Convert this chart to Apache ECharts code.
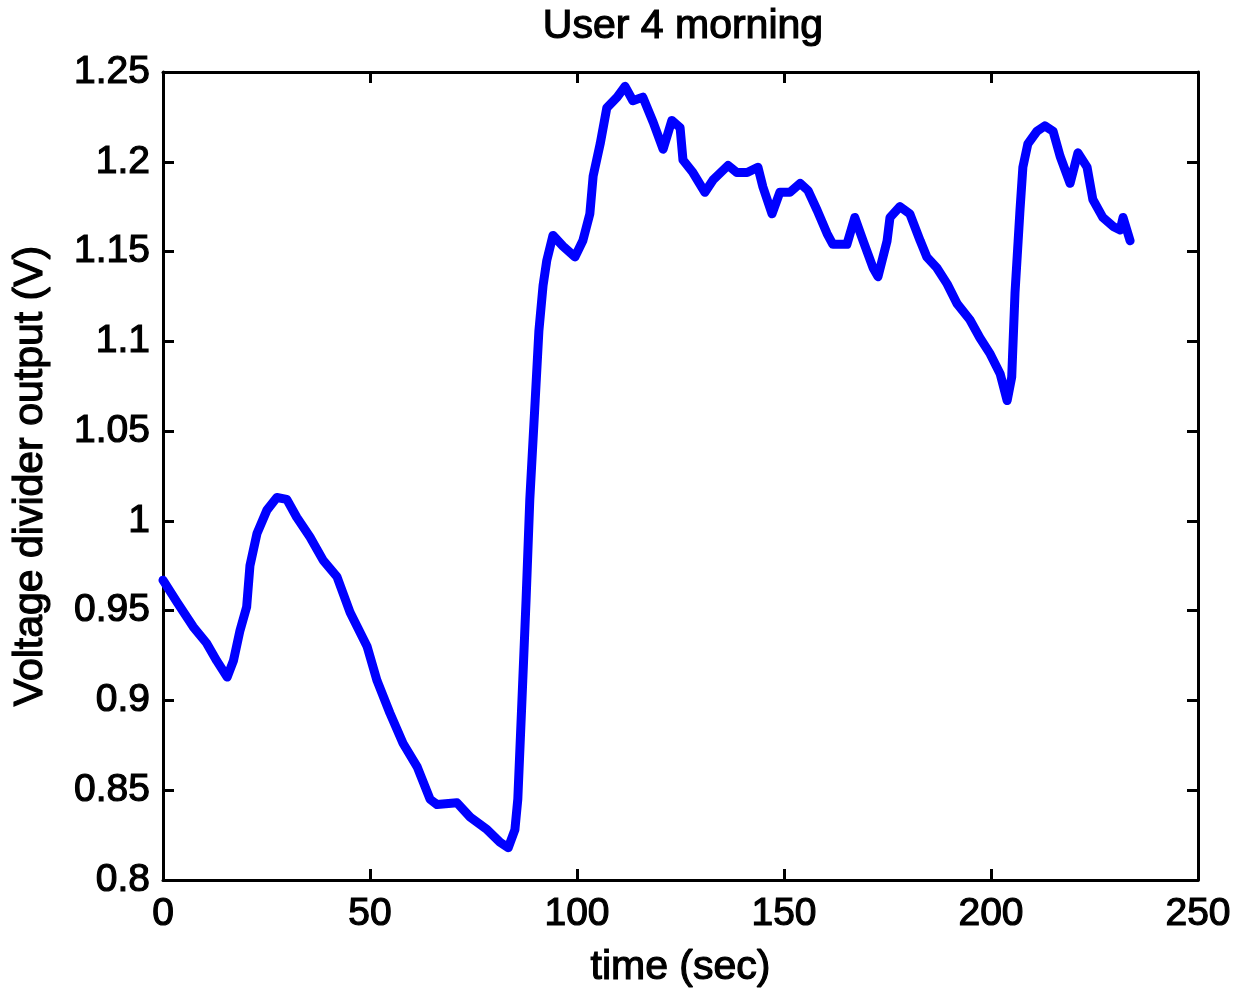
<!DOCTYPE html>
<html>
<head>
<meta charset="utf-8">
<script src="https://cdn.jsdelivr.net/npm/echarts@6/dist/echarts.min.js"></script>
<style>
html,body{margin:0;padding:0;background:#fff;}
#chart{width:1239px;height:1000px;}
</style>
</head>
<body>
<div id="chart"></div>
<script>
// Time (sec)
const times = [0, 3.3, 7.3, 10.5, 13, 15.5, 17, 18.6, 20.2, 21, 22.7, 25.1, 27.5, 29.9, 32.3, 35.5, 38.7, 42, 45.2, 49.3, 51.7, 54.8, 58, 61.4, 64.5, 66.2, 71, 74.2, 78.3, 81.4, 83.4, 85, 85.7, 86.7, 87.7, 88.6, 89.9, 90.8, 91.8, 92.7, 94.2, 96.6, 99.5, 101.4, 103.1, 103.9, 105.6, 107.2, 109.7, 111.6, 113.5, 115.9, 118.4, 120.8, 122.9, 124.9, 125.6, 128, 130.9, 132.9, 136.5, 138.6, 141.1, 143.7, 144.9, 147.1, 149, 151.4, 153.9, 155.8, 158, 160.4, 161.8, 165.2, 167.1, 169.1, 171.5, 172.7, 174.9, 175.6, 178, 180.4, 182.9, 184.5, 186.9, 189.4, 191.8, 194.9, 197.3, 199.8, 202.2, 203.9, 205, 205.8, 207, 207.7, 208.9, 211.1, 213, 215, 216.7, 219.1, 221, 223.2, 224.6, 227, 229.5, 231.2, 231.9, 233.6];
// Voltage divider output (V)
const volts = [0.967, 0.955, 0.941, 0.932, 0.922, 0.913, 0.922, 0.939, 0.952, 0.975, 0.993, 1.006, 1.013, 1.012, 1.002, 0.991, 0.978, 0.969, 0.949, 0.930, 0.911, 0.893, 0.876, 0.863, 0.845, 0.842, 0.843, 0.835, 0.828, 0.821, 0.818, 0.828, 0.845, 0.900, 0.956, 1.012, 1.067, 1.106, 1.131, 1.145, 1.159, 1.153, 1.147, 1.156, 1.171, 1.192, 1.210, 1.230, 1.236, 1.242, 1.234, 1.236, 1.222, 1.207, 1.223, 1.219, 1.201, 1.194, 1.183, 1.190, 1.198, 1.194, 1.194, 1.197, 1.186, 1.171, 1.183, 1.183, 1.188, 1.184, 1.173, 1.160, 1.154, 1.154, 1.169, 1.156, 1.141, 1.136, 1.156, 1.169, 1.175, 1.171, 1.156, 1.147, 1.141, 1.132, 1.121, 1.112, 1.102, 1.093, 1.082, 1.067, 1.080, 1.127, 1.173, 1.197, 1.210, 1.217, 1.220, 1.217, 1.203, 1.188, 1.205, 1.197, 1.179, 1.169, 1.164, 1.162, 1.169, 1.156];
const xTicks = [0, 50, 100, 150, 200, 250];
const yTicks = [0.8, 0.85, 0.9, 0.95, 1, 1.05, 1.1, 1.15, 1.2, 1.25];

const chart = echarts.init(document.getElementById('chart'), null, {renderer: 'canvas'});
const font = 'Liberation Sans, Arial, Helvetica, sans-serif';
const axisLine = {show: true, onZero: false, lineStyle: {color: '#000', width: 3}};
const axisTick = {show: true, inside: true, length: 11, lineStyle: {color: '#000', width: 3}};
const baseText = {color: '#000', fontFamily: font, fontWeight: 'normal', textBorderColor: '#000', textBorderWidth: 1.2};
const tickStyle = Object.assign({fontSize: 39}, baseText);
const nameStyle = Object.assign({fontSize: 41}, baseText);

chart.setOption({
  backgroundColor: '#fff',
  animation: false,
  title: {
    text: 'User 4 morning',
    left: 678, top: 1, textAlign: 'center',
    textStyle: Object.assign({fontSize: 41}, baseText)
  },
  grid: {left: 163, top: 72, right: 41, bottom: 120, containLabel: false},
  xAxis: [{
    type: 'value', min: xTicks[0], max: xTicks[xTicks.length - 1], interval: 50,
    position: 'bottom',
    name: 'time (sec)', nameLocation: 'middle', nameGap: 67,
    nameTextStyle: nameStyle,
    axisLine, axisTick, splitLine: {show: false},
    axisLabel: Object.assign({margin: 15}, tickStyle)
  }, {
    type: 'value', min: xTicks[0], max: xTicks[xTicks.length - 1], interval: 50,
    position: 'top', axisLine, axisTick, splitLine: {show: false},
    axisLabel: {show: false}
  }],
  yAxis: [{
    type: 'value', min: yTicks[0], max: yTicks[yTicks.length - 1], interval: 0.05,
    position: 'left',
    name: 'Voltage divider output (V)', nameLocation: 'middle', nameGap: 112,
    nameTextStyle: nameStyle,
    axisLine, axisTick, splitLine: {show: false},
    axisLabel: Object.assign({margin: 13, formatter: v => String(parseFloat(v.toFixed(2)))}, tickStyle)
  }, {
    type: 'value', min: yTicks[0], max: yTicks[yTicks.length - 1], interval: 0.05,
    position: 'right', axisLine, axisTick, splitLine: {show: false},
    axisLabel: {show: false}
  }],
  series: [{
    type: 'line',
    xAxisIndex: 0, yAxisIndex: 0,
    data: times.map((t, i) => [t, volts[i]]),
    showSymbol: false, symbol: 'none',
    lineStyle: {color: '#0000ff', width: 9, join: 'round', cap: 'round'},
    smooth: false
  }]
});
</script>
</body>
</html>
